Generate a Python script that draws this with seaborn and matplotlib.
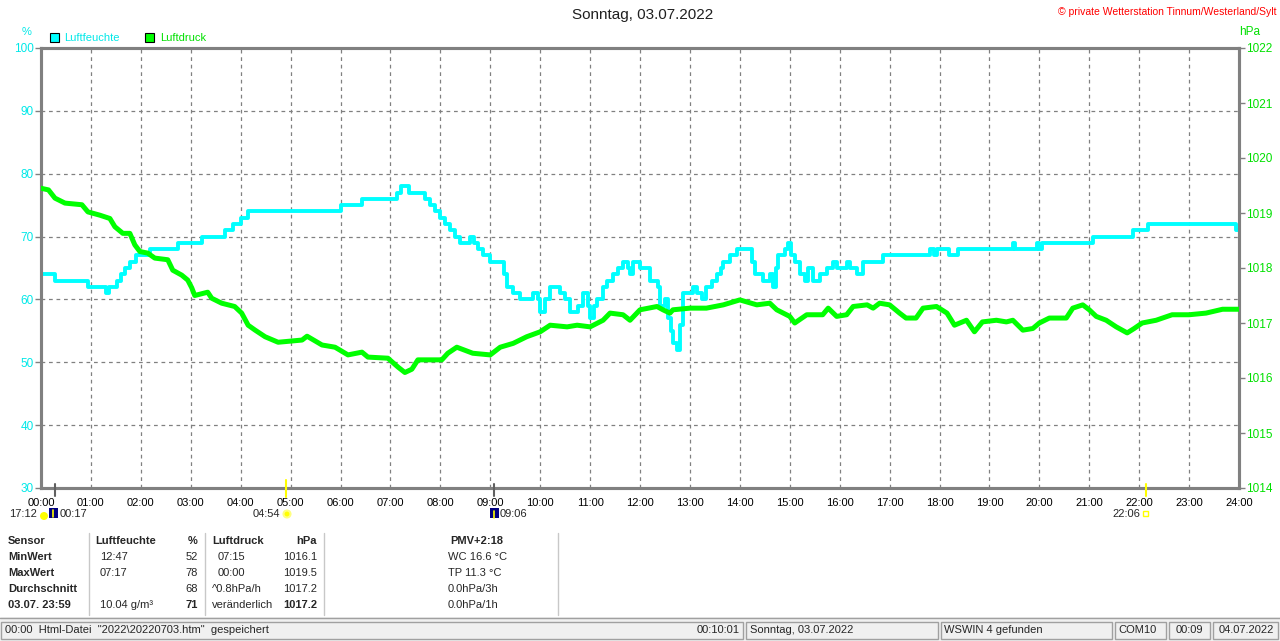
import matplotlib
matplotlib.use("Agg")
import matplotlib.pyplot as plt
import seaborn as sns
import pandas as pd
from matplotlib.patches import Rectangle, Circle

# ---------------- data ----------------
hum_t = [0, 0.28, 0.94, 1.30, 1.36, 1.52, 1.60, 1.68, 1.78, 1.90, 2.18, 2.74, 3.22, 3.69, 3.85,
         4.0, 4.15, 6.0, 6.43, 7.13, 7.22, 7.38, 7.7, 7.8, 7.9, 8.0, 8.1, 8.2, 8.3, 8.4, 8.6,
         8.68, 8.75, 8.85, 9.0, 9.28, 9.33, 9.45, 9.6, 9.86, 9.95, 10.0, 10.1, 10.2, 10.4, 10.5,
         10.6, 10.75, 10.86, 10.95, 11.0, 11.08, 11.13, 11.25, 11.33, 11.46, 11.56, 11.66, 11.75,
         11.8, 11.86, 12.0, 12.2, 12.36, 12.4, 12.5, 12.56, 12.62, 12.67, 12.74, 12.8, 12.86,
         13.06, 13.15, 13.25, 13.33, 13.45, 13.54, 13.62, 13.67, 13.8, 13.95, 14.25, 14.3, 14.47,
         14.6, 14.67, 14.72, 14.77, 14.9, 14.97, 15.03, 15.1, 15.2, 15.3, 15.37, 15.47, 15.6,
         15.75, 15.87, 15.95, 16.14, 16.2, 16.34, 16.47, 16.87, 17.8, 17.88, 17.95, 18.2, 18.37,
         19.48, 19.52, 19.95, 20.0, 20.05, 21.08, 21.88, 22.18, 23.94, 24.0]
hum_v = [64, 63, 62, 61, 62, 63, 64, 65, 66, 67, 68, 69, 70, 71, 72,
         73, 74, 75, 76, 77, 78, 77, 76, 75, 74, 73, 72, 71, 70, 69, 70,
         69, 68, 67, 66, 64, 62, 61, 60, 61, 60, 58, 60, 62, 61, 60,
         58, 59, 61, 59, 57, 59, 60, 62, 63, 64, 65, 66, 65,
         64, 66, 65, 63, 62, 59, 60, 57, 55, 53, 52, 56, 61,
         62, 61, 60, 62, 63, 64, 65, 66, 67, 68, 66, 64, 63,
         64, 62, 65, 67, 68, 69, 67, 66, 64, 63, 65, 63, 64,
         65, 66, 65, 66, 65, 64, 66, 67, 68, 67, 68, 67, 68,
         69, 68, 69, 68, 69, 70, 71, 72, 71, 71]

pres_t = [0.0, 0.15, 0.28, 0.48, 0.82, 0.94, 1.18, 1.38, 1.48, 1.64, 1.78, 1.88, 1.98, 2.14,
          2.28, 2.54, 2.64, 2.82, 2.94, 3.02, 3.08, 3.34, 3.42, 3.62, 3.88, 4.02, 4.15, 4.29,
          4.49, 4.75, 5.23, 5.33, 5.63, 5.89, 6.15, 6.43, 6.55, 6.95, 7.15, 7.29, 7.43, 7.55,
          8.03, 8.15, 8.33, 8.65, 9.0, 9.2, 9.46, 9.73, 10.0, 10.2, 10.54, 10.74, 11.0, 11.26,
          11.4, 11.66, 11.8, 12.0, 12.34, 12.46, 12.6, 12.66, 13.0, 13.33, 13.67, 14.0, 14.34,
          14.6, 14.74, 15.0, 15.1, 15.34, 15.66, 15.77, 15.94, 16.14, 16.27, 16.55, 16.67, 16.8,
          17.0, 17.2, 17.33, 17.53, 17.67, 17.94, 18.15, 18.3, 18.54, 18.7, 18.86, 19.14, 19.34,
          19.47, 19.67, 19.87, 20.0, 20.2, 20.54, 20.67, 20.87, 21.0, 21.14, 21.34, 21.54, 21.76,
          21.9, 22.06, 22.34, 22.66, 23.0, 23.34, 23.67, 24.0]
pres_v = [1019.45, 1019.42, 1019.27, 1019.18, 1019.15, 1019.02, 1018.96, 1018.90, 1018.75,
          1018.63, 1018.63, 1018.42, 1018.30, 1018.27, 1018.18, 1018.15, 1017.96, 1017.87,
          1017.78, 1017.64, 1017.50, 1017.56, 1017.45, 1017.36, 1017.30, 1017.18, 1016.96,
          1016.87, 1016.75, 1016.65, 1016.69, 1016.76, 1016.60, 1016.56, 1016.42, 1016.47,
          1016.38, 1016.36, 1016.20, 1016.10, 1016.16, 1016.33, 1016.33, 1016.45, 1016.56,
          1016.45, 1016.42, 1016.56, 1016.63, 1016.75, 1016.84, 1016.96, 1016.93, 1016.96,
          1016.93, 1017.05, 1017.18, 1017.15, 1017.05, 1017.24, 1017.30, 1017.24, 1017.18,
          1017.24, 1017.27, 1017.27, 1017.33, 1017.42, 1017.33, 1017.36, 1017.24, 1017.12,
          1017.00, 1017.15, 1017.15, 1017.27, 1017.12, 1017.15, 1017.30, 1017.33, 1017.27,
          1017.36, 1017.33, 1017.18, 1017.09, 1017.09, 1017.27, 1017.30, 1017.18, 1016.96,
          1017.05, 1016.84, 1017.02, 1017.05, 1017.02, 1017.05, 1016.87, 1016.90, 1017.00,
          1017.09, 1017.09, 1017.27, 1017.33, 1017.24, 1017.12, 1017.05, 1016.93, 1016.82,
          1016.90, 1017.00, 1017.05, 1017.15, 1017.15, 1017.18, 1017.25, 1017.25]

hour_ticks = list(range(25))
hour_labels = [f"{h:02d}:00" for h in hour_ticks]
hum_ticks = [30, 40, 50, 60, 70, 80, 90, 100]
pres_ticks = [1014, 1015, 1016, 1017, 1018, 1019, 1020, 1021, 1022]

title = "Sonntag, 03.07.2022"
copyright_txt = "\u00a9 private Wetterstation Tinnum/Westerland/Sylt"

table_rows = [
    ["Sensor", "Luftfeuchte", "%", "Luftdruck", "hPa", "PMV+2:18"],
    ["MinWert", "12:47", "52", "07:15", "1016.1", "WC 16.6 \u00b0C"],
    ["MaxWert", "07:17", "78", "00:00", "1019.5", "TP 11.3 \u00b0C"],
    ["Durchschnitt", "", "68", "^0.8hPa/h", "1017.2", "0.0hPa/3h"],
    ["03.07. 23:59", "10.04 g/m\u00b3", "71", "ver\u00e4nderlich", "1017.2", "0.0hPa/1h"],
]
status_left = "00:00  Html-Datei  \"2022\\20220703.htm\"  gespeichert"
status_fields = ["00:10:01", "Sonntag, 03.07.2022", "WSWIN 4 gefunden", "COM10", "00:09", "04.07.2022"]

# ---------------- style ----------------
sns.set_style("white")
plt.rcParams['font.family'] = ['Liberation Sans', 'DejaVu Sans']

CYAN = '#00FFFF'
CYAN_T = '#00E8E8'
GREEN = '#00FF00'
GREEN_T = '#00E000'
GREY = '#808080'

W, H = 1280, 641
fig = plt.figure(figsize=(W / 100, H / 100), dpi=100)
fig.patch.set_facecolor('white')

ax = fig.add_axes([41 / W, 1 - 488 / H, 1198 / W, 440 / H])
ax2 = ax.twinx()

hum_df = pd.DataFrame({'t': hum_t, 'v': hum_v})
pres_df = pd.DataFrame({'t': pres_t, 'v': pres_v})

sns.lineplot(data=hum_df, x='t', y='v', ax=ax, color=CYAN, linewidth=2.8,
             drawstyle='steps-post', estimator=None, zorder=3)
sns.lineplot(data=pres_df, x='t', y='v', ax=ax2, color=GREEN, linewidth=3.6,
             estimator=None, zorder=3)

ax.set_xlim(0, 24)
ax.set_ylim(30, 100)
ax2.set_ylim(1014, 1022)
ax.set_xticks(hour_ticks)
ax.set_xticklabels(hour_labels, fontsize=8)
ax.set_yticks(hum_ticks)
ax.set_yticklabels([str(v) for v in hum_ticks], fontsize=8.5)
ax2.set_yticks(pres_ticks)
ax2.set_yticklabels([str(v) for v in pres_ticks], fontsize=8.5)
ax.set_xlabel('')
ax.set_ylabel('')
ax2.set_ylabel('')

ax.grid(True, color=GREY, linestyle=(0, (3, 3)), linewidth=0.9)
ax2.grid(False)
ax.set_axisbelow(True)

for a in (ax, ax2):
    for s in a.spines.values():
        s.set_color(GREY)
        s.set_linewidth(2.2)
        s.set_visible(True)

ax.tick_params(axis='x', length=0, pad=7, labelcolor='black')
ax.tick_params(axis='y', length=4, width=1, color=GREY, labelcolor=CYAN_T, pad=1)
ax2.tick_params(axis='y', length=4, width=1, color=GREY, labelcolor=GREEN_T, pad=1)

# ---------------- overlay (texts, legend, table, status bar) ----------------
ov = fig.add_axes([0, 0, 1, 1], zorder=5)
ov.set_xlim(0, W)
ov.set_ylim(H, 0)
ov.axis('off')

ov.text(643, 15, title, ha='center', va='center', fontsize=11, color='#202020')
ov.text(1277, 12, copyright_txt, ha='right', va='center', fontsize=7.5, color='#FF0000')
ov.text(27, 32, '%', ha='center', va='center', fontsize=8, color=CYAN_T)
ov.text(1250, 32, 'hPa', ha='center', va='center', fontsize=8.5, color=GREEN_T)

# legend
ov.add_patch(Rectangle((50, 33), 9, 9, facecolor=CYAN, edgecolor='black', lw=0.8))
ov.text(64, 38, 'Luftfeuchte', ha='left', va='center', fontsize=8, color=CYAN_T)
ov.add_patch(Rectangle((145, 33), 9, 9, facecolor=GREEN, edgecolor='black', lw=0.8))
ov.text(160, 38, 'Luftdruck', ha='left', va='center', fontsize=8, color=GREEN_T)

# sun / moon markers
ov.plot([286, 286], [480, 497], color='#FFFF00', lw=1.5)
ov.plot([1146, 1146], [484, 496], color='#FFFF00', lw=1.5)
ov.plot([55, 55], [484, 496], color='#606060', lw=1.5)
ov.plot([494, 494], [484, 496], color='#606060', lw=1.5)
ov.text(37, 514, '17:12', ha='right', va='center', fontsize=8)
ov.add_patch(Circle((44, 516), 4, facecolor='#FFFF00', edgecolor='none'))
ov.add_patch(Rectangle((49, 508), 9, 10, facecolor='#000080', edgecolor='none'))
ov.plot([53, 53], [510, 517], color='#FFFF00', lw=1.2)
ov.text(60, 514, '00:17', ha='left', va='center', fontsize=8)
ov.text(280, 514, '04:54', ha='right', va='center', fontsize=8)
ov.add_patch(Circle((287, 514), 3.5, facecolor='#FFFF00', edgecolor='#FFFF80', lw=1.5))
ov.add_patch(Rectangle((490, 508), 9, 10, facecolor='#000080', edgecolor='none'))
ov.plot([494, 494], [511, 518], color='#FFFF00', lw=1.2)
ov.text(500, 514, '09:06', ha='left', va='center', fontsize=8)
ov.text(1140, 514, '22:06', ha='right', va='center', fontsize=8)
ov.add_patch(Rectangle((1143, 511), 5, 5, facecolor='white', edgecolor='#FFFF00', lw=1))

# table
row_y = [541, 557, 573, 589, 605]
for x in (89, 205, 324, 558):
    ov.plot([x, x], [533, 615], color='#C8C8C8', lw=1)
for i, (r, y) in enumerate(zip(table_rows, row_y)):
    head = (i == 0)
    ov.text(8, y, r[0], ha='left', va='center', fontsize=8, fontweight='bold')
    ov.text(95 if head else 100, y, r[1], ha='left', va='center', fontsize=8,
            fontweight='bold' if head else 'normal')
    ov.text(198, y, r[2], ha='right', va='center', fontsize=8,
            fontweight='bold' if (head or i == 4) else 'normal')
    ov.text(212 if (head or i >= 3) else 218, y, r[3], ha='left', va='center', fontsize=8,
            fontweight='bold' if head else 'normal')
    ov.text(317, y, r[4], ha='right', va='center', fontsize=8,
            fontweight='bold' if (head or i == 4) else 'normal')
    if head:
        ov.text(477, y, r[5], ha='center', va='center', fontsize=8, fontweight='bold')
    else:
        ov.text(448, y, r[5], ha='left', va='center', fontsize=8)

# status bar
ov.add_patch(Rectangle((0, 617), W, H - 617, facecolor='#F0F0F0', edgecolor='none'))
ov.plot([0, W], [618, 618], color='#A0A0A0', lw=1)
panels = [(1, 743), (746, 938), (941, 1112), (1115, 1166), (1169, 1210), (1213, 1278)]
for (x0, x1) in panels:
    ov.add_patch(Rectangle((x0, 622), x1 - x0, 17, facecolor='#F0F0F0',
                           edgecolor='#A0A0A0', lw=1))
ov.text(5, 630, status_left, ha='left', va='center', fontsize=8)
ov.text(740, 630, status_fields[0], ha='right', va='center', fontsize=8)
ov.text(750, 630, status_fields[1], ha='left', va='center', fontsize=8)
ov.text(944, 630, status_fields[2], ha='left', va='center', fontsize=8)
ov.text(1118, 630, status_fields[3], ha='left', va='center', fontsize=8)
ov.text(1189, 630, status_fields[4], ha='center', va='center', fontsize=8)
ov.text(1274, 630, status_fields[5], ha='right', va='center', fontsize=8)

fig.savefig('out.png', dpi=100, facecolor='white')
